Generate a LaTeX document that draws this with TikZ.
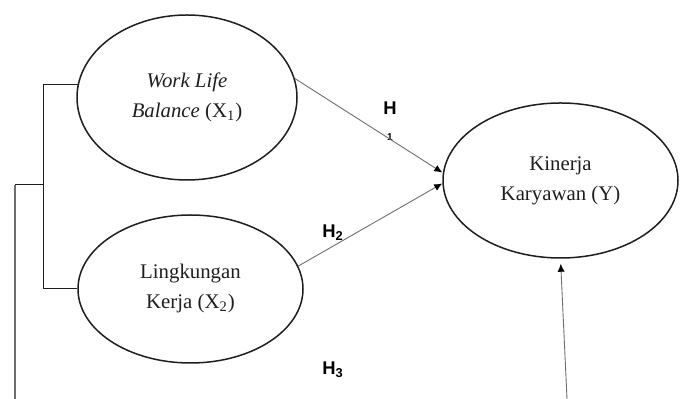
\documentclass[tikz,border=0pt]{standalone}
\usepackage{fontspec}
\setmainfont{Liberation Serif}
\newfontfamily\hfont{Liberation Sans}
\usepackage{tikz}
\usetikzlibrary{arrows.meta,positioning,shapes.geometric}
\definecolor{rimgray}{RGB}{30,30,30}
\definecolor{linegray}{RGB}{110,110,110}

\begin{document}
\begin{tikzpicture}[x=0.5pt,y=-0.5pt,
    construct/.style={ellipse,draw=rimgray,line width=0.75pt,inner sep=0pt,
      align=center,text=rimgray,font=\fontsize{10.4}{15}\selectfont},
    path/.style={draw=linegray,line width=0.45pt,-{Latex[length=4pt,width=3.6pt,color=black]}},
    hyp/.style={font=\hfont\bfseries\fontsize{9.2}{11}\selectfont},
    bracket/.style={draw=rimgray,line width=0.5pt}]
  \useasboundingbox (0,0) rectangle (680,399);

  \node[construct,minimum width=110pt,minimum height=82.5pt] (wlb) at (187,97.5)
    {\textit{Work Life}\\\textit{Balance} (X\textsubscript{1})};
  \node[construct,minimum width=112.5pt,minimum height=74pt] (lk) at (190.5,289)
    {Lingkungan\\Kerja (X\textsubscript{2})};
  \node[construct,minimum width=117.5pt,minimum height=77.5pt] (kin) at (560.5,180.5)
    {Kinerja\\Karyawan (Y)};

  % hypotheses
  \node[hyp] (h1) at (390,108) {H};
  \node[hyp,font=\hfont\bfseries\fontsize{5}{6}\selectfont] (h1sub) at (390,137) {1};
  \node[hyp] (h2) at (333,233) {H\textsubscript{2}};
  \node[hyp] (h3) at (333,370) {H\textsubscript{3}};

  \path[path] (wlb.10) -- ([yshift=4pt]kin.west);
  \path[path] (lk.12) -- ([yshift=-1.5pt]kin.west);

  % simultaneous path
  \coordinate (fork) at (43,185);
  \coordinate (leftend) at (15,185);
  \coordinate (leftfoot) at (15,399);
  \coordinate (rightfoot) at (567,399);
  \draw[bracket] (wlb.173) -- (wlb.173 -| fork) -- (fork |- lk.west) -- (lk.west);
  \draw[bracket] (fork) -- (leftend);
  \draw[linegray,line width=0.6pt] (leftend) -- (leftfoot);
  \path[path,shorten >=2.5pt] (rightfoot) -- (kin.south);
\end{tikzpicture}
\end{document}
